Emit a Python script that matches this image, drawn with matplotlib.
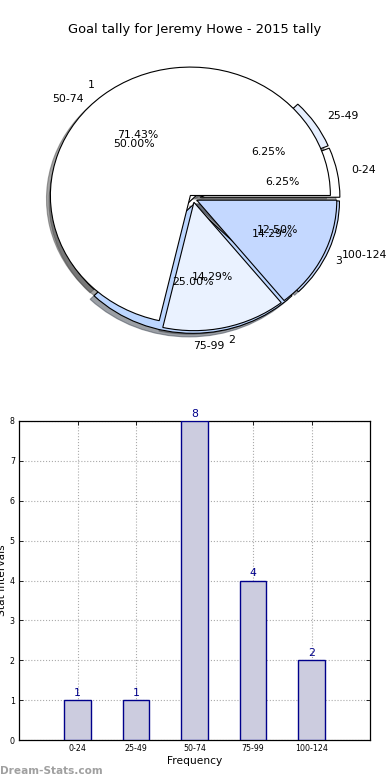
import matplotlib
matplotlib.use("Agg")
import matplotlib.pyplot as plt

title = "Goal tally for Jeremy Howe - 2015 tally"
categories = ["0-24", "25-49", "50-74", "75-99", "100-124"]
counts = [1, 1, 8, 4, 2]
group_labels = ["1", "2", "3"]
group_counts = [5, 1, 1]
y_ticks = [0, 1, 2, 3, 4, 5, 6, 7, 8]

pie1_colors = ["#ffffff", "#e6efff", "#ffffff", "#bcd6ff", "#c4d8ff"]
pie1_explode = [0.05, 0.05, 0.0, 0.05, 0.05]
pie2_colors = ["#ffffff", "#eaf2ff", "#c4d8ff"]
pie2_explode = [0.03, 0.03, 0.03]

fig = plt.figure(figsize=(3.9, 7.8), dpi=100)
fig.patch.set_facecolor("white")

fig.text(0.5, 1 - 30 / 780, title, ha="center", va="center", fontsize=9.4)

# Pie
axp = fig.add_axes([18 / 390, 1 - 359 / 780, 350 / 390, 321 / 780])
wp = dict(edgecolor="black", linewidth=0.8)
tp = dict(fontsize=7.8)
axp.pie(counts, labels=categories, colors=pie1_colors, explode=pie1_explode,
        autopct="%1.2f%%", shadow=True, startangle=0, counterclock=True,
        wedgeprops=wp, textprops=tp)
axp.pie(group_counts, labels=group_labels, colors=pie2_colors, explode=pie2_explode,
        autopct="%1.2f%%", shadow=True, startangle=0, counterclock=True,
        wedgeprops=wp, textprops=tp)
axp.set_aspect("auto")
axp.set_xlim(-1.25, 1.25)
axp.set_ylim(-1.25, 1.25)
axp.axis("off")

# Bar chart
axb = fig.add_axes([19 / 390, 1 - 740 / 780, 351 / 390, 319 / 780])
x = list(range(len(categories)))
axb.bar(x, counts, width=0.45, color="#ccccdf", edgecolor="#00008b", linewidth=1.0, zorder=3)
for xi, v in zip(x, counts):
    axb.text(xi, v + 0.06, str(v), ha="center", va="bottom", color="#00008b", fontsize=7.8)
axb.set_xlim(-1, 5)
axb.set_ylim(0, 8)
axb.set_xticks(x)
axb.set_xticklabels(categories)
axb.set_yticks(y_ticks)
axb.tick_params(axis="both", labelsize=5.7, direction="in", top=True, right=True, length=3, width=0.6, pad=3)
axb.grid(True, linestyle=":", color="#aaaaaa", linewidth=0.8, zorder=0)
axb.set_axisbelow(True)
axb.set_xlabel("Frequency", fontsize=7.7, labelpad=2)
axb.set_ylabel("Stat Intervals", fontsize=7.7, labelpad=2)
for s in axb.spines.values():
    s.set_linewidth(0.9)

fig.text(0.0, 1 - 771 / 780, "Dream-Stats.com", ha="left", va="center", fontsize=7.6,
         color="#a0a0a0", fontweight="bold")

fig.savefig("out.png", dpi=100)
